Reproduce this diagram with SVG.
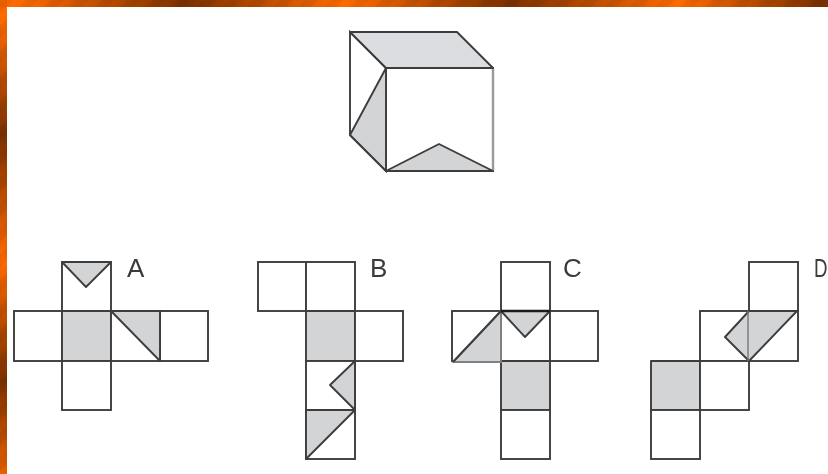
<svg xmlns="http://www.w3.org/2000/svg" width="828" height="474" viewBox="0 0 828 474">
<defs>
<linearGradient id="woodt" gradientUnits="userSpaceOnUse" x1="0" y1="0" x2="828" y2="0">
<stop offset="0" stop-color="#ff6a00"/>
<stop offset="0.03" stop-color="#fa6800"/>
<stop offset="0.225" stop-color="#7a3000"/>
<stop offset="0.415" stop-color="#ff6a00"/>
<stop offset="0.615" stop-color="#7a3000"/>
<stop offset="0.82" stop-color="#ff6a00"/>
<stop offset="0.99" stop-color="#7a3000"/>
</linearGradient>
<linearGradient id="woodl" gradientUnits="userSpaceOnUse" x1="0" y1="0" x2="0" y2="474">
<stop offset="0" stop-color="#ff6a00"/>
<stop offset="0.05" stop-color="#fa6800"/>
<stop offset="0.285" stop-color="#7a3000"/>
<stop offset="0.55" stop-color="#ff6a00"/>
<stop offset="0.8" stop-color="#7a3000"/>
<stop offset="1" stop-color="#e85f00"/>
</linearGradient>
<pattern id="stripes" patternUnits="userSpaceOnUse" width="18" height="18" patternTransform="rotate(-45)">
<rect width="18" height="9" fill="#000" fill-opacity="0.05"/>
</pattern>
<filter id="soft" filterUnits="userSpaceOnUse" x="7" y="7" width="821" height="467"><feGaussianBlur stdDeviation="0.35"/></filter>
</defs>
<style>
.c{fill:#fff;stroke:#3d3d3d;stroke-width:1.9}
.s{fill:#d3d4d6;stroke:#3d3d3d;stroke-width:1.9;stroke-linejoin:round}
.t{font-family:"Liberation Sans",sans-serif;font-size:26px;fill:#3a3a3a}
</style>
<rect width="828" height="474" fill="#fff"/>
<g id="frame">
<rect width="828" height="7" fill="url(#woodt)"/>
<rect width="7" height="474" fill="url(#woodl)"/>
<rect width="828" height="7" fill="url(#stripes)"/>
<rect width="7" height="474" fill="url(#stripes)"/>
</g>
<g filter="url(#soft)">
<g id="cube">
<polygon class="c" points="350,32 386,68 386,171 350,135"/>
<polygon class="c" points="386,68 493,68 493,171 386,171"/>
<path d="M493 68V171" stroke="#9a9a9a" stroke-width="2.4" fill="none"/>
<polygon class="s" points="350,32 457,32 493,68 386,68" style="fill:#dcdde0"/>
<polygon class="s" points="386,68 386,171 350,135"/>
<polygon class="s" points="386,171 439,144 493,171"/>
</g>
<g id="net-a">
<rect class="c" x="62" y="262" width="49" height="49"/>
<rect class="c" x="14" y="311" width="48" height="50"/>
<rect class="s" x="62" y="311" width="49" height="50"/>
<rect class="c" x="111" y="311" width="49" height="50"/>
<rect class="c" x="160" y="311" width="48" height="50"/>
<rect class="c" x="62" y="361" width="49" height="49"/>
<polygon class="s" points="62,262 111,262 86,287"/>
<polygon class="s" points="111,311 160,311 160,361"/>
<text class="t" x="127" y="277">A</text>
</g>
<g id="net-b">
<rect class="c" x="258" y="262" width="48" height="49"/>
<rect class="c" x="306" y="262" width="49" height="49"/>
<rect class="s" x="306" y="311" width="49" height="50"/>
<rect class="c" x="355" y="311" width="48" height="50"/>
<rect class="c" x="306" y="361" width="49" height="49"/>
<rect class="c" x="306" y="410" width="49" height="49"/>
<polygon class="s" points="355,361 355,410 330,385"/>
<polygon class="s" points="306,410 355,410 306,459"/>
<text class="t" x="370" y="277">B</text>
</g>
<g id="net-c">
<rect class="c" x="501" y="262" width="49" height="49"/>
<rect class="c" x="452" y="311" width="49" height="50"/>
<rect class="c" x="501" y="311" width="49" height="50"/>
<rect class="c" x="550" y="311" width="48" height="50"/>
<rect class="s" x="501" y="361" width="49" height="49"/>
<rect class="c" x="501" y="410" width="49" height="49"/>
<polygon class="s" points="501,311 501,362 453,362" style="stroke:#808080"/>
<path d="M501 311L453 362" stroke="#3d3d3d" stroke-width="1.9" fill="none"/>
<polygon class="s" points="501,311 550,311 525,337"/>
<path d="M501 311H550" stroke="#1a1a1a" stroke-width="2.6" fill="none"/>
<text class="t" x="563" y="277">C</text>
</g>
<g id="net-d">
<rect class="c" x="749" y="262" width="49" height="49"/>
<rect class="c" x="700" y="311" width="49" height="50"/>
<rect class="c" x="749" y="311" width="49" height="50"/>
<rect class="s" x="651" y="361" width="49" height="49"/>
<rect class="c" x="700" y="361" width="49" height="49"/>
<rect class="c" x="651" y="410" width="49" height="49"/>
<polygon class="s" points="749,311 797,311 749,361 725,337"/>
<path d="M748 311V361" stroke="#777" stroke-width="1.4" fill="none"/>
<text class="t" transform="translate(814 277) scale(0.72 1)">D</text>
</g>
</g>
</svg>
